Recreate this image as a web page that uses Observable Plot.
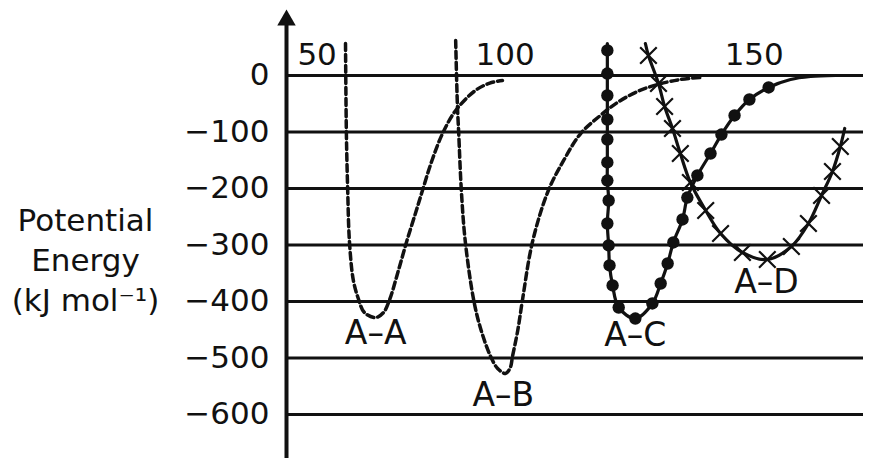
<!DOCTYPE html>
<html>
<head>
<meta charset="utf-8">
<script src="https://cdn.jsdelivr.net/npm/d3@7"></script>
<script src="https://cdn.jsdelivr.net/npm/@observablehq/plot@0.6"></script>
<style>
  html, body { margin: 0; padding: 0; background: #fff; }
</style>
</head>
<body>
<div id="chart"></div>
<script>
// ---- data (bond length in pm, potential energy in kJ/mol) ----
const yTicks = [0, -100, -200, -300, -400, -500, -600];
const xTickLabels = ["50", "100", "150"];
const xTickPos = [50, 93, 150];
const xTickY = 37;

// A–A (dashed)
const curveAA = [
  [56.5, 56.6], [56.7, -102.7], [57.0, -203.5], [57.4, -293.8], [58.3, -362.9],
  [59.5, -396.5], [60.8, -419.5], [63.4, -428.4], [65.2, -419.5], [66.6, -396.5],
  [68.6, -345.2], [70.5, -293.8], [72.7, -239.0], [74.1, -203.6], [76.2, -152.2],
  [78.7, -102.7], [81.7, -62.0], [86.2, -26.6], [89.5, -13.5], [92.4, -8.9]
];
// A–B (dashed)
const curveAB = [
  [81.7, 62.0], [82.1, -53.1], [82.4, -102.7], [83.0, -203.6], [83.9, -293.8],
  [85.8, -396.5], [87.4, -447.9], [89.7, -497.4], [91.3, -518.7], [93.1, -527.5],
  [94.2, -516.9], [94.7, -497.4], [95.9, -451.4], [97.0, -396.5], [99.3, -293.8],
  [102.9, -203.6], [106.4, -150.4], [110.3, -102.7], [114.8, -70.8], [118.7, -47.8],
  [123.3, -28.3], [127.9, -15.9], [133.1, -7.1], [137.7, -3.5]
];
// A–C (solid line with dots)
const acStart = [[116.4, 56.6]];
const acDots = [
  [116.4, 44.3], [116.4, 3.5], [116.4, -35.4], [116.4, -77.9], [116.4, -113.3],
  [116.4, -154.0], [116.4, -185.9], [116.7, -221.3], [116.4, -262.0], [116.7, -300.9],
  [116.9, -336.3], [117.6, -371.7], [119.0, -410.7], [122.8, -430.2], [126.7, -403.6],
  [128.6, -368.2], [130.2, -332.8], [131.5, -295.6], [133.6, -254.9], [134.7, -216.0],
  [137.0, -177.0], [140.0, -138.1], [142.5, -104.5], [145.5, -70.8], [148.9, -42.5],
  [153.3, -21.2]
];
const acTail = [[158.3, -7.1], [162.9, -1.8], [168.6, 0]];
// A–D (solid line with crosses)
const adStart = [[125.1, 56.6]];
const adMarks = [
  [125.8, 35.4], [128.1, -14.2], [129.5, -54.9], [131.3, -93.8], [133.1, -138.1],
  [135.4, -189.4], [138.9, -239.0], [142.3, -279.7], [147.3, -313.3], [153.0, -325.7],
  [158.5, -302.7], [162.4, -262.0], [165.4, -212.4], [167.9, -169.9], [169.7, -125.7]
];
const adEnd = [[170.7, -93.8]];

const curveLabels = ["A–A", "A–B", "A–C", "A–D"];
const labelX = [63.4, 92.6, 122.8, 152.8];
const labelY = [-456.7, -566.5, -460.3, -366.4];

const xDomain = [43, 175];
const yDomain = [-678, 88.5];
const axisTitle = "Potential\nEnergy\n(kJ mol⁻¹)";

// ---- build ----
const pts = a => a.map(([x, y]) => ({x, y}));
const ink = "#111";

const chart = Plot.plot({
  width: 871,
  height: 463,
  marginLeft: 286,
  marginRight: 8,
  marginTop: 25,
  marginBottom: 5,
  style: {fontFamily: "'DejaVu Sans', Verdana, sans-serif", fontSize: "31px", color: ink, background: "#fff"},
  x: {domain: xDomain, axis: null},
  y: {domain: yDomain, ticks: yTicks, tickSize: 0, tickPadding: 17, label: null},
  marks: [
    Plot.ruleY(yTicks, {stroke: ink, strokeWidth: 3}),
    Plot.ruleX([xDomain[0]], {stroke: ink, strokeWidth: 4}),
    Plot.dot([{x: xDomain[0], y: yDomain[1]}], {x: "x", y: "y", symbol: "triangle", r: 6.85, fill: ink, stroke: "none", dy: -5.3}),
    Plot.line(pts(curveAA), {x: "x", y: "y", curve: "catmull-rom", stroke: ink, strokeWidth: 3.5, strokeDasharray: "7,4"}),
    Plot.line(pts(curveAB), {x: "x", y: "y", curve: "catmull-rom", stroke: ink, strokeWidth: 3.5, strokeDasharray: "7,4"}),
    Plot.line(pts([...acStart, ...acDots, ...acTail]), {x: "x", y: "y", curve: "catmull-rom", stroke: ink, strokeWidth: 3.2}),
    Plot.dot(pts(acDots), {x: "x", y: "y", r: 6.2, fill: ink, stroke: "none"}),
    Plot.line(pts([...adStart, ...adMarks, ...adEnd]), {x: "x", y: "y", curve: "catmull-rom", stroke: ink, strokeWidth: 3.2}),
    Plot.dot(pts(adMarks), {x: "x", y: "y", symbol: "times", r: 7.6, stroke: ink, strokeWidth: 2.2, fill: "none"}),
    Plot.text(xTickLabels, {x: (d, i) => xTickPos[i], y: () => xTickY, text: d => d, fontSize: 31, fill: ink, textAnchor: "middle"}),
    Plot.text(curveLabels, {x: (d, i) => labelX[i], y: (d, i) => labelY[i], text: d => d, fontSize: 33, fill: ink, textAnchor: "middle"}),
    Plot.text([axisTitle], {frameAnchor: "left", text: d => d, dx: -201, dy: 16, fontSize: 31, lineHeight: 1.29, textAnchor: "middle", fill: ink})
  ]
});
document.getElementById("chart").appendChild(chart);
</script>
</body>
</html>
